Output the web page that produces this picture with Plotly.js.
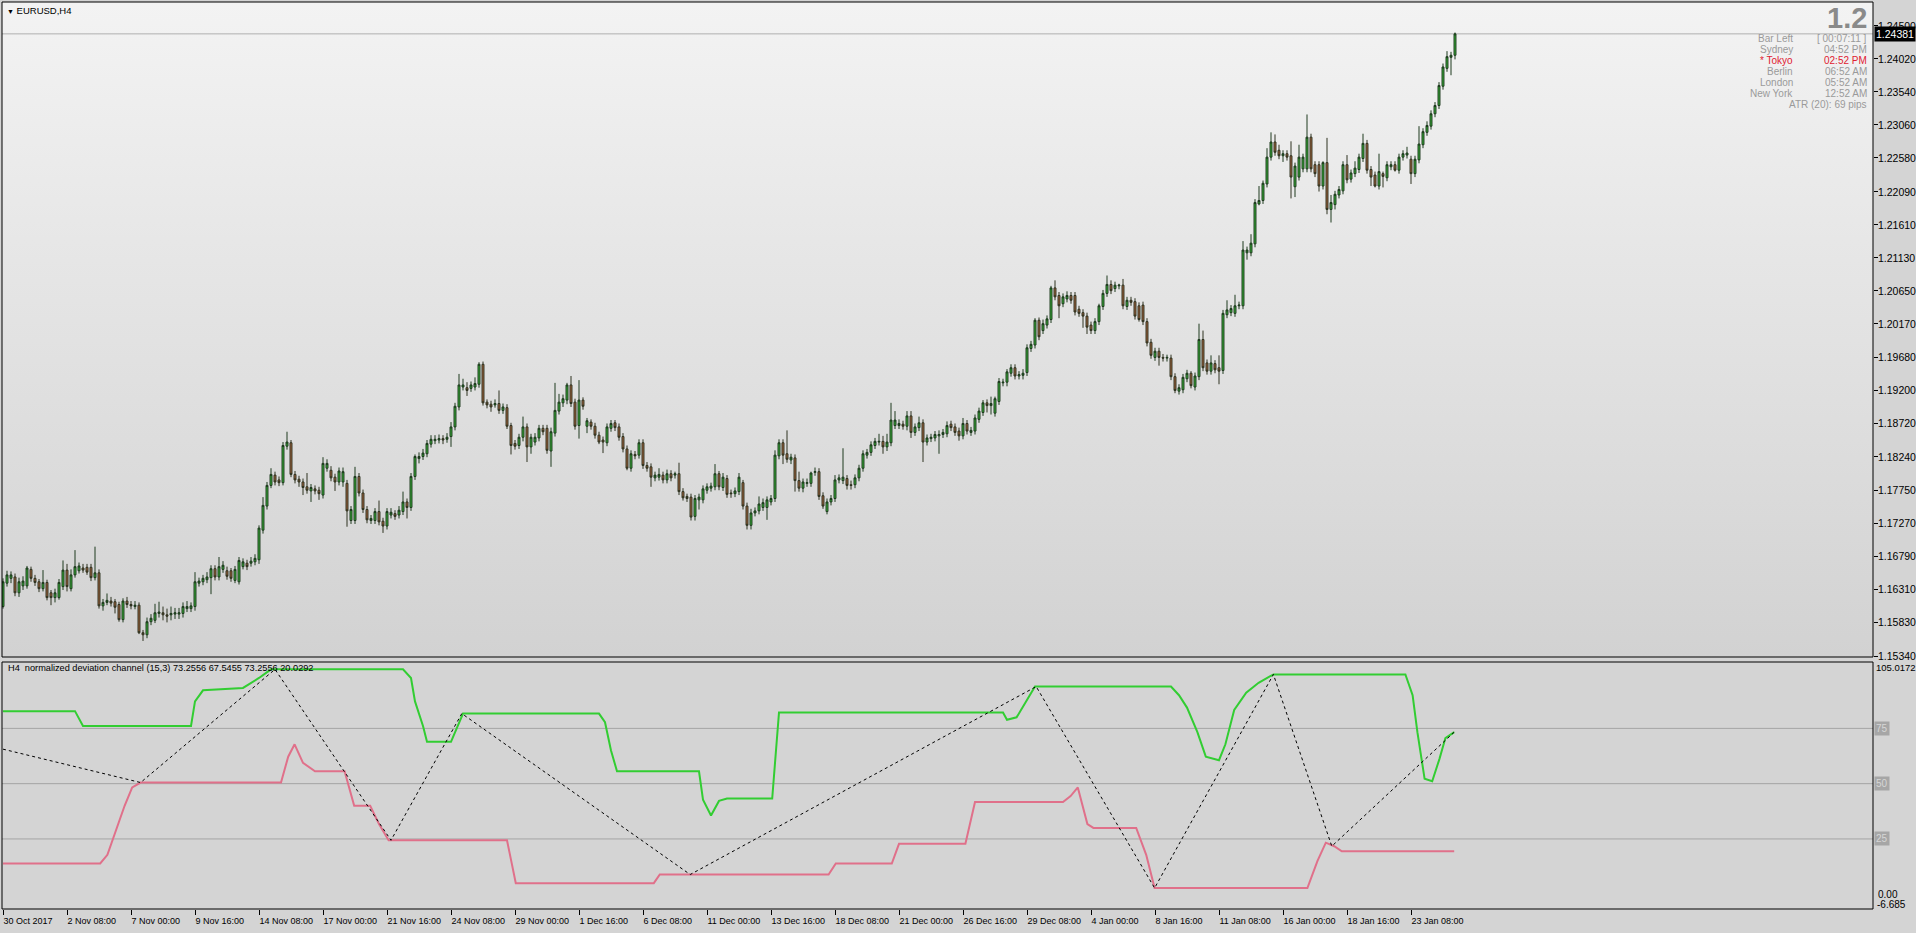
<!DOCTYPE html>
<html>
<head>
<meta charset="utf-8">
<script src="https://cdn.plot.ly/plotly-3.0.1.min.js"></script>
<style>
html,body{margin:0;padding:0;background:#d4d4d4;overflow:hidden;}
#wrap{position:relative;width:1916px;height:933px;}
#grad{position:absolute;left:2px;top:2px;width:1871px;height:655px;background:linear-gradient(to bottom,#f3f3f3,#d2d2d2);}
#low{position:absolute;left:2px;top:662px;width:1871px;height:247px;background:#d4d4d4;}
#chart{position:absolute;left:0;top:0;width:1916px;height:933px;}
</style>
</head>
<body>
<div id="wrap"><div id="grad"></div><div id="low"></div><div id="chart"></div></div>
<script>
// ---------- price data (EURUSD H4) ----------
const open = [
1.1606,1.1640,1.1647,1.1649,1.1626,1.1636,1.1636,1.1660,1.1647,1.1642,
1.1632,1.1641,1.1626,1.1619,1.1619,1.1635,1.1659,1.1632,1.1652,1.1658,
1.1662,1.1663,1.1663,1.1648,1.1655,1.1607,1.1612,1.1614,1.1613,1.1609,
1.1587,1.1614,1.1609,1.1606,1.1608,1.1568,1.1565,1.1584,1.1586,1.1596,
1.1597,1.1594,1.1594,1.1595,1.1595,1.1596,1.1603,1.1603,1.1606,1.1640,
1.1642,1.1645,1.1648,1.1661,1.1649,1.1660,1.1658,1.1658,1.1644,1.1642,
1.1664,1.1669,1.1669,1.1671,1.1674,1.1717,1.1752,1.1782,1.1797,1.1790,
1.1786,1.1839,1.1844,1.1798,1.1791,1.1787,1.1780,1.1774,1.1777,1.1775,
1.1768,1.1807,1.1804,1.1794,1.1787,1.1787,1.1785,1.1731,1.1731,1.1795,
1.1771,1.1747,1.1731,1.1731,1.1744,1.1730,1.1723,1.1739,1.1741,1.1739,
1.1744,1.1758,1.1750,1.1795,1.1821,1.1824,1.1828,1.1842,1.1847,1.1848,
1.1850,1.1849,1.1853,1.1867,1.1896,1.1925,1.1924,1.1923,1.1925,1.1929,
1.1958,1.1903,1.1900,1.1899,1.1901,1.1891,1.1895,1.1869,1.1843,1.1840,
1.1852,1.1867,1.1838,1.1845,1.1851,1.1865,1.1865,1.1832,1.1858,1.1890,
1.1902,1.1906,1.1928,1.1903,1.1869,1.1906,1.1868,1.1874,1.1868,1.1855,
1.1848,1.1844,1.1865,1.1873,1.1867,1.1853,1.1835,1.1807,1.1827,1.1826,
1.1844,1.1811,1.1809,1.1793,1.1794,1.1797,1.1790,1.1799,1.1797,1.1799,
1.1773,1.1766,1.1765,1.1737,1.1761,1.1761,1.1775,1.1778,1.1780,1.1799,
1.1779,1.1792,1.1771,1.1770,1.1773,
1.1786,1.1752,1.1724,1.1742,1.1745,
1.1750,1.1750,1.1758,1.1763,1.1825,1.1844,1.1828,1.1819,1.1822,1.1789,
1.1778,1.1785,1.1785,1.1801,1.1802,1.1767,1.1744,1.1758,1.1763,1.1790,
1.1789,1.1792,1.1783,1.1783,1.1793,1.1807,1.1826,1.1830,1.1840,1.1845,
1.1846,1.1838,1.1844,1.1869,1.1869,1.1871,1.1868,1.1883,1.1859,1.1866,
1.1873,1.1845,1.1850,1.1851,1.1854,1.1856,1.1857,1.1871,1.1867,1.1861,
1.1854,1.1872,1.1859,1.1861,1.1878,1.1888,1.1902,1.1898,1.1887,1.1904,
1.1931,1.1932,1.1945,1.1953,1.1941,1.1942,1.1946,1.1981,1.1986,1.2022,
1.2007,1.2015,1.2023,1.2069,1.2058,1.2046,1.2053,1.2058,1.2058,1.2038,
1.2033,1.2028,1.2015,1.2007,1.2020,1.2042,1.2061,1.2074,1.2068,1.2072,
1.2073,1.2042,1.2051,1.2049,1.2043,1.2044,1.2020,1.1990,1.1968,1.1977,
1.1968,1.1967,1.1967,1.1940,1.1919,1.1921,1.1937,1.1945,1.1925,1.1940,
1.1994,1.1960,1.1948,1.1959,1.1953,1.1949,1.2030,1.2033,1.2032,1.2043,
1.2043,1.2120,1.2120,1.2133,1.2191,1.2196,1.2220,1.2259,1.2281,1.2269,
1.2261,1.2264,1.2261,1.2216,1.2230,1.2242,1.2242,1.2288,1.2248,1.2248,
1.2217,1.2251,1.2183,1.2190,1.2204,1.2210,1.2248,1.2227,1.2235,1.2241,
1.2257,1.2279,1.2241,1.2233,1.2217,1.2235,1.2229,1.2245,1.2248,1.2240,
1.2259,1.2262,1.2256,1.2235,1.2255,1.2277,1.2295,1.2304,1.2322,1.2334,
1.2362,1.2388,1.2404,1.2407];
const high = [
1.1647,1.1658,1.1657,1.1654,1.1648,1.1650,1.1665,1.1664,1.1652,1.1646,
1.1659,1.1645,1.1630,1.1632,1.1646,1.1673,1.1668,1.1660,1.1688,1.1670,
1.1668,1.1668,1.1668,1.1693,1.1660,1.1617,1.1625,1.1620,1.1617,1.1613,
1.1618,1.1620,1.1614,1.1614,1.1612,1.1572,1.1590,1.1595,1.1610,1.1613,
1.1606,1.1603,1.1606,1.1604,1.1604,1.1612,1.1614,1.1612,1.1656,1.1648,
1.1652,1.1656,1.1666,1.1666,1.1678,1.1672,1.1664,1.1662,1.1665,1.1678,
1.1676,1.1674,1.1678,1.1682,1.1724,1.1765,1.1787,1.1807,1.1802,1.1795,
1.1845,1.1860,1.1848,1.1803,1.1796,1.1792,1.1800,1.1784,1.1782,1.1780,
1.1823,1.1820,1.1810,1.1799,1.1808,1.1808,1.1790,1.1752,1.1809,1.1800,
1.1776,1.1752,1.1739,1.1749,1.1760,1.1735,1.1749,1.1749,1.1746,1.1752,
1.1773,1.1763,1.1800,1.1827,1.1830,1.1835,1.1848,1.1855,1.1855,1.1856,
1.1855,1.1858,1.1874,1.1902,1.1944,1.1937,1.1932,1.1933,1.1939,1.1961,
1.1962,1.1907,1.1905,1.1907,1.1920,1.1901,1.1900,1.1873,1.1848,1.1857,
1.1882,1.1872,1.1857,1.1858,1.1870,1.1870,1.1870,1.1866,1.1931,1.1915,
1.1914,1.1931,1.1941,1.1908,1.1935,1.1910,1.1880,1.1878,1.1873,1.1860,
1.1853,1.1872,1.1877,1.1877,1.1872,1.1858,1.1840,1.1833,1.1832,1.1849,
1.1849,1.1816,1.1814,1.1802,1.1807,1.1802,1.1805,1.1804,1.1802,1.1815,
1.1778,1.1770,1.1770,1.1768,1.1770,1.1782,1.1785,1.1786,1.1813,1.1803,
1.1800,1.1797,1.1776,1.1779,1.1800,
1.1790,1.1757,1.1748,1.1750,1.1766,
1.1763,1.1766,1.1768,1.1833,1.1849,1.1849,1.1862,1.1828,1.1827,1.1802,
1.1792,1.1792,1.1802,1.1808,1.1807,1.1772,1.1763,1.1768,1.1797,1.1798,
1.1836,1.1797,1.1789,1.1798,1.1812,1.1833,1.1835,1.1846,1.1851,1.1857,
1.1854,1.1857,1.1902,1.1890,1.1878,1.1876,1.1890,1.1890,1.1872,1.1882,
1.1878,1.1856,1.1857,1.1861,1.1862,1.1864,1.1875,1.1876,1.1872,1.1866,
1.1880,1.1877,1.1867,1.1885,1.1895,1.1906,1.1907,1.1911,1.1911,1.1938,
1.1937,1.1951,1.1958,1.1958,1.1948,1.1951,1.1987,1.1992,1.2025,1.2026,
1.2023,1.2029,1.2072,1.2080,1.2063,1.2061,1.2064,1.2063,1.2063,1.2043,
1.2038,1.2033,1.2020,1.2025,1.2046,1.2066,1.2087,1.2080,1.2078,1.2075,
1.2082,1.2056,1.2056,1.2054,1.2048,1.2049,1.2025,1.1995,1.1982,1.1982,
1.1973,1.1972,1.1972,1.1945,1.1929,1.1944,1.1950,1.1948,1.1946,1.2017,
1.2007,1.1965,1.1971,1.1964,1.1971,1.2037,1.2051,1.2044,1.2059,1.2049,
1.2137,1.2129,1.2147,1.2198,1.2217,1.2225,1.2272,1.2295,1.2292,1.2277,
1.2269,1.2269,1.2282,1.2251,1.2277,1.2264,1.2321,1.2293,1.2253,1.2253,
1.2253,1.2287,1.2204,1.2210,1.2217,1.2253,1.2262,1.2241,1.2253,1.2264,
1.2293,1.2284,1.2246,1.2238,1.2264,1.2238,1.2253,1.2253,1.2253,1.2264,
1.2269,1.2274,1.2261,1.2261,1.2304,1.2301,1.2311,1.2327,1.2339,1.2368,
1.2395,1.2413,1.2412,1.2440];
const low = [
1.1603,1.1635,1.1640,1.1621,1.1620,1.1630,1.1632,1.1642,1.1636,1.1627,
1.1628,1.1615,1.1608,1.1612,1.1616,1.1630,1.1628,1.1628,1.1648,1.1654,
1.1655,1.1652,1.1643,1.1644,1.1603,1.1600,1.1608,1.1606,1.1596,1.1584,
1.1583,1.1604,1.1602,1.1602,1.1566,1.1556,1.1560,1.1579,1.1582,1.1590,
1.1586,1.1583,1.1586,1.1588,1.1588,1.1590,1.1598,1.1598,1.1600,1.1635,
1.1637,1.1640,1.1624,1.1644,1.1644,1.1655,1.1645,1.1642,1.1640,1.1638,
1.1660,1.1659,1.1664,1.1666,1.1668,1.1712,1.1747,1.1778,1.1782,1.1781,
1.1782,1.1834,1.1794,1.1785,1.1780,1.1768,1.1770,1.1758,1.1769,1.1761,
1.1763,1.1802,1.1788,1.1774,1.1782,1.1780,1.1722,1.1726,1.1726,1.1766,
1.1742,1.1727,1.1726,1.1726,1.1724,1.1713,1.1718,1.1734,1.1732,1.1734,
1.1739,1.1734,1.1745,1.1790,1.1814,1.1819,1.1823,1.1837,1.1842,1.1843,
1.1842,1.1844,1.1838,1.1862,1.1891,1.1920,1.1912,1.1918,1.1920,1.1924,
1.1898,1.1894,1.1889,1.1895,1.1886,1.1886,1.1864,1.1827,1.1834,1.1835,
1.1846,1.1816,1.1828,1.1840,1.1846,1.1855,1.1828,1.1809,1.1853,1.1885,
1.1896,1.1900,1.1896,1.1863,1.1850,1.1892,1.1858,1.1863,1.1850,1.1842,
1.1829,1.1839,1.1860,1.1861,1.1847,1.1830,1.1804,1.1802,1.1820,1.1821,
1.1806,1.1802,1.1780,1.1788,1.1789,1.1785,1.1785,1.1788,1.1792,1.1768,
1.1760,1.1758,1.1731,1.1731,1.1747,1.1756,1.1770,1.1773,1.1775,1.1775,
1.1774,1.1764,1.1764,1.1765,1.1768,
1.1747,1.1718,1.1718,1.1737,1.1740,
1.1745,1.1732,1.1753,1.1758,1.1820,1.1813,1.1815,1.1813,1.1773,1.1773,
1.1772,1.1780,1.1780,1.1796,1.1761,1.1748,1.1740,1.1753,1.1758,1.1785,
1.1784,1.1776,1.1776,1.1778,1.1788,1.1802,1.1821,1.1825,1.1835,1.1840,
1.1828,1.1832,1.1839,1.1864,1.1864,1.1863,1.1862,1.1851,1.1854,1.1861,
1.1816,1.1840,1.1845,1.1846,1.1828,1.1851,1.1852,1.1861,1.1854,1.1847,
1.1849,1.1856,1.1854,1.1856,1.1873,1.1883,1.1888,1.1885,1.1882,1.1899,
1.1926,1.1926,1.1940,1.1936,1.1936,1.1936,1.1941,1.1976,1.1981,1.1993,
1.2002,1.2010,1.2018,1.2051,1.2025,1.2041,1.2048,1.2046,1.2029,1.2027,
1.2011,1.2002,1.2002,1.2002,1.2015,1.2037,1.2056,1.2060,1.2063,1.2067,
1.2038,1.2037,1.2043,1.2023,1.2020,1.2015,1.1984,1.1966,1.1963,1.1956,
1.1962,1.1962,1.1935,1.1916,1.1914,1.1916,1.1932,1.1923,1.1920,1.1935,
1.1948,1.1943,1.1943,1.1945,1.1929,1.1944,1.2025,1.2028,1.2027,1.2038,
1.2038,1.2110,1.2115,1.2128,1.2189,1.2191,1.2215,1.2254,1.2261,1.2256,
1.2252,1.2254,1.2199,1.2201,1.2225,1.2237,1.2237,1.2237,1.2230,1.2209,
1.2212,1.2176,1.2164,1.2183,1.2199,1.2205,1.2221,1.2222,1.2230,1.2236,
1.2252,1.2235,1.2217,1.2215,1.2212,1.2215,1.2224,1.2240,1.2238,1.2235,
1.2254,1.2257,1.2220,1.2230,1.2250,1.2272,1.2290,1.2299,1.2317,1.2329,
1.2357,1.2383,1.2378,1.2401];
const close = [
1.1642,1.1652,1.1652,1.1626,1.1642,1.1643,1.1662,1.1647,1.1641,1.1632,
1.1641,1.1619,1.1619,1.1626,1.1641,1.1659,1.1635,1.1652,1.1664,1.1665,
1.1659,1.1656,1.1648,1.1655,1.1607,1.1612,1.1615,1.1611,1.1605,1.1587,
1.1614,1.1609,1.1607,1.1608,1.1568,1.1565,1.1584,1.1589,1.1597,1.1598,
1.1594,1.1592,1.1596,1.1597,1.1597,1.1606,1.1606,1.1607,1.1642,1.1643,
1.1647,1.1649,1.1661,1.1649,1.1664,1.1666,1.1650,1.1647,1.1660,1.1673,
1.1671,1.1664,1.1672,1.1676,1.1720,1.1753,1.1782,1.1798,1.1787,1.1786,
1.1840,1.1845,1.1798,1.1790,1.1787,1.1779,1.1775,1.1779,1.1774,1.1770,
1.1814,1.1814,1.1793,1.1787,1.1803,1.1802,1.1745,1.1747,1.1795,1.1771,
1.1747,1.1732,1.1734,1.1744,1.1729,1.1723,1.1744,1.1743,1.1737,1.1746,
1.1758,1.1750,1.1795,1.1824,1.1824,1.1829,1.1843,1.1849,1.1849,1.1850,
1.1848,1.1852,1.1867,1.1897,1.1928,1.1928,1.1920,1.1928,1.1930,1.1958,
1.1902,1.1899,1.1896,1.1901,1.1891,1.1896,1.1868,1.1840,1.1839,1.1852,
1.1867,1.1838,1.1852,1.1852,1.1865,1.1860,1.1833,1.1860,1.1891,1.1903,
1.1908,1.1928,1.1901,1.1868,1.1906,1.1897,1.1876,1.1868,1.1855,1.1845,
1.1845,1.1867,1.1872,1.1866,1.1852,1.1835,1.1807,1.1828,1.1825,1.1844,
1.1811,1.1807,1.1794,1.1797,1.1798,1.1790,1.1799,1.1793,1.1799,1.1773,
1.1764,1.1763,1.1736,1.1763,1.1765,1.1777,1.1780,1.1781,1.1799,1.1780,
1.1794,1.1769,1.1770,1.1774,1.1794,
1.1752,1.1724,1.1742,1.1745,1.1755,
1.1757,1.1761,1.1763,1.1826,1.1844,1.1826,1.1820,1.1823,1.1789,1.1778,
1.1787,1.1786,1.1800,1.1802,1.1766,1.1752,1.1758,1.1763,1.1790,1.1793,
1.1794,1.1782,1.1782,1.1793,1.1807,1.1828,1.1830,1.1841,1.1846,1.1846,
1.1838,1.1845,1.1877,1.1877,1.1872,1.1868,1.1883,1.1859,1.1867,1.1873,
1.1845,1.1851,1.1852,1.1856,1.1856,1.1859,1.1869,1.1866,1.1859,1.1854,
1.1872,1.1861,1.1862,1.1880,1.1890,1.1902,1.1898,1.1901,1.1908,1.1933,
1.1932,1.1947,1.1953,1.1941,1.1943,1.1945,1.1982,1.1987,1.2022,1.1998,
1.2017,1.2024,1.2069,1.2056,1.2043,1.2056,1.2058,1.2051,1.2034,1.2032,
1.2028,1.2012,1.2007,1.2020,1.2043,1.2061,1.2074,1.2065,1.2073,1.2073,
1.2043,1.2051,1.2048,1.2028,1.2023,1.2020,1.1989,1.1971,1.1977,1.1968,
1.1967,1.1968,1.1940,1.1920,1.1924,1.1939,1.1945,1.1927,1.1941,1.1994,
1.1953,1.1948,1.1960,1.1950,1.1948,1.2032,1.2037,1.2039,1.2043,1.2044,
1.2124,1.2124,1.2134,1.2193,1.2196,1.2221,1.2259,1.2281,1.2266,1.2261,
1.2264,1.2259,1.2230,1.2246,1.2259,1.2259,1.2288,1.2242,1.2235,1.2217,
1.2251,1.2183,1.2193,1.2205,1.2212,1.2248,1.2226,1.2236,1.2243,1.2259,
1.2279,1.2240,1.2230,1.2217,1.2238,1.2231,1.2248,1.2248,1.2240,1.2259,
1.2264,1.2265,1.2235,1.2256,1.2278,1.2296,1.2305,1.2322,1.2334,1.2363,
1.2390,1.2405,1.2407,1.24381];

const lastPrice = 1.24381;
const priceTicks = [1.24500,1.24020,1.23540,1.23060,1.22580,1.22090,1.21610,1.21130,1.20650,1.20170,
  1.19680,1.19200,1.18720,1.18240,1.17750,1.17270,1.16790,1.16310,1.15830,1.15340];
const priceTickText = ['1.24500','1.24020','1.23540','1.23060','1.22580','1.22090','1.21610','1.21130','1.20650','1.20170',
  '1.19680','1.19200','1.18720','1.18240','1.17750','1.17270','1.16790','1.16310','1.15830','1.15340'];

// time axis labels every 16 H4 bars
const timeLabels = ['30 Oct 2017','2 Nov 08:00','7 Nov 00:00','9 Nov 16:00','14 Nov 08:00','17 Nov 00:00',
  '21 Nov 16:00','24 Nov 08:00','29 Nov 00:00','1 Dec 16:00','6 Dec 08:00','11 Dec 00:00','13 Dec 16:00',
  '18 Dec 08:00','21 Dec 00:00','26 Dec 16:00','29 Dec 08:00','4 Jan 00:00','8 Jan 16:00','11 Jan 08:00',
  '16 Jan 00:00','18 Jan 16:00','23 Jan 08:00'];
const timeLabelBars = [0,16,32,48,64,80,96,112,128,144,160,176,192,208,224,240,256,272,288,304,320,336,352];

// ---------- normalized deviation channel (vertices: bar, value) ----------
const upperX = [0,18,20,47,48,50,60,64,67,100,102,103,105,106,112,115,149,150.5,152,153.5,174,175,177,179,181,192.3,194,250,251,253.4,258,292,294,296,298.6,300.7,304,305.6,307.8,310.8,313.9,317.6,350.6,352.4,353.6,355.4,357.3,359.1,360.6,362.8];
const upperY = [82.8,82.8,76.1,76.1,87.2,92.2,93.3,97.8,101.7,101.7,97.8,87.2,76.1,68.9,68.9,81.7,81.7,77.8,65,55.6,55.6,42.8,35.6,42.2,43.3,43.3,82.2,82.2,78.9,80,93.9,93.9,90,84.4,73.3,62.2,60.6,67.8,83.3,91.1,95.6,99.4,99.4,90,73.3,52.2,51.1,61.1,70.6,73.3];
const lowerX = [0,24.3,26.1,28.3,30.4,32.3,34.4,69.5,71.3,72.9,75,78,85.4,87.8,91.8,94,96.4,126,128.2,162.7,164.2,206.4,208.2,222.2,224,240.6,243,265,266.9,268.7,271.1,272.6,283.3,285.8,287.9,326.1,328.6,330.7,332.8,334.7,362.8];
const lowerY = [13.9,13.9,17.8,28.9,40,48.3,50.5,50.5,62.2,67.8,59.4,55.6,55.6,40,40,31.7,24.4,24.4,5,5,8.9,8.9,13.9,13.9,22.8,22.8,41.7,41.7,44.4,48.3,31.7,30,30,17.8,2.8,2.8,15,23.3,21.7,19.4,19.4];
const zigX = [0,34.4,68,97,114.7,171.8,258.3,287.9,317.6,332.2,362.8];
const zigY = [65.6,50.5,101.7,24.4,81.7,8.9,93.9,2.8,99.4,21.7,73.3];
const levels = [75,50,25];
const indMax = 105.0172, indMin = -6.685;
const indTitle = 'H4  normalized deviation channel (15,3) 73.2556 67.5455 73.2556 20.0292';

// info panel
const infoLabels = ['Bar Left','Sydney','* Tokyo','Berlin','London','New York'];
const infoValues = ['[ 00:07:11 ]','04:52 PM','02:52 PM','06:52 AM','05:52 AM','12:52 AM'];
const atrText = 'ATR (20): 69 pips';

// ---------- layout helpers (pixel -> paper) ----------
const L = 2, R = 1873, T = 2, B = 909;
const px = x => (x - L) / (R - L);
const py = y => (B - y) / (B - T);
const mainBottom = 657, lowTop = 662;

const bars = close.map((_, i) => i);
const FONT = 'Liberation Sans, Arial, sans-serif';

const traces = [
  {type:'candlestick', x:bars, open:open, high:high, low:low, close:close, xaxis:'x', yaxis:'y',
   increasing:{line:{color:'#1e3a1e', width:1}, fillcolor:'#36b336'},
   decreasing:{line:{color:'#2e3320', width:1}, fillcolor:'#a8623c'},
   whiskerwidth:0, hoverinfo:'skip', showlegend:false},
  {type:'scatter', mode:'lines', x:upperX, y:upperY, xaxis:'x', yaxis:'y2',
   line:{color:'#32cd32', width:2}, hoverinfo:'skip', showlegend:false},
  {type:'scatter', mode:'lines', x:lowerX, y:lowerY, xaxis:'x', yaxis:'y2',
   line:{color:'#e0708a', width:2}, hoverinfo:'skip', showlegend:false},
  {type:'scatter', mode:'lines', x:zigX, y:zigY, xaxis:'x', yaxis:'y2',
   line:{color:'#000000', width:1, dash:'3px,3px'}, hoverinfo:'skip', showlegend:false}
];

const shapes = [
  {type:'line', xref:'paper', x0:0, x1:1, yref:'y', y0:lastPrice, y1:lastPrice, line:{color:'#b0b0b0', width:1}, layer:'below'},
  {type:'rect', xref:'paper', x0:0, x1:1, yref:'paper', y0:py(mainBottom), y1:1, line:{color:'#000', width:1}},
  {type:'rect', xref:'paper', x0:0, x1:1, yref:'paper', y0:0, y1:py(lowTop), line:{color:'#000', width:1}}
];
levels.forEach(v => shapes.push({type:'line', xref:'paper', x0:0, x1:1, yref:'y2', y0:v, y1:v, line:{color:'#a4a4a4', width:1}, layer:'below'}));

const annotations = [];
function txt(x, y, text, opt) {
  annotations.push(Object.assign({xref:'paper', yref:'paper', x:px(x), y:py(y), text:text, showarrow:false,
    xanchor:'left', yanchor:'middle', font:{family:FONT, size:10, color:'#000'}}, opt || {}));
}
txt(5, 10, '<span style="font-size:7px">\u25BC</span> EURUSD,H4', {font:{family:FONT, size:9.5, color:'#000'}});
txt(1869, 18, '1.2', {xanchor:'right', font:{family:FONT, size:29, color:'#8a8a8a', weight:'bold'}});
infoLabels.forEach((s, i) => {
  const col = i === 2 ? '#e02030' : '#9a9a9a';
  txt(1795, 38 + i * 11.1, s, {xanchor:'right', font:{family:FONT, size:10, color:col}});
  txt(1869, 38 + i * 11.1, infoValues[i], {xanchor:'right', font:{family:FONT, size:10, color:col}});
});
txt(1869, 38 + 6 * 11.1, atrText, {xanchor:'right', font:{family:FONT, size:10, color:'#9a9a9a'}});
txt(6, 668, indTitle, {font:{family:FONT, size:9.2, color:'#000'}});
// right price scale labels
priceTicks.forEach((v, i) => annotations.push({xref:'paper', yref:'y', x:1, y:v, xanchor:'left', yanchor:'middle', xshift:3,
  text:priceTickText[i], showarrow:false, font:{family:FONT, size:10.5, color:'#000'}}));
annotations.push({xref:'paper', yref:'y', x:1, y:lastPrice, xanchor:'left', yanchor:'middle', xshift:1, text:'1.24381',
  showarrow:false, bgcolor:'#000', borderpad:1, font:{family:FONT, size:10.5, color:'#fff'}});
txt(1874, 667, indMax.toFixed(4), {font:{family:FONT, size:9.5, color:'#000'}});
txt(1876, 894, '0.00', {font:{family:FONT, size:10, color:'#000'}});
txt(1875, 904, String(indMin), {font:{family:FONT, size:10, color:'#000'}});
levels.forEach(v => annotations.push({xref:'paper', yref:'y2', x:1, y:v, xanchor:'left', yanchor:'middle', xshift:1,
  text:String(v), showarrow:false, bgcolor:'#a6a6a6', borderpad:1, font:{family:FONT, size:10, color:'#d6d6d6'}}));

const layout = {
  width:1916, height:933,
  margin:{l:L, r:1916 - R, t:T, b:933 - B, pad:0},
  paper_bgcolor:'rgba(0,0,0,0)', plot_bgcolor:'rgba(0,0,0,0)',
  showlegend:false, dragmode:false,
  xaxis:{domain:[0,1], anchor:'y2', range:[-0.25, 467.5], showgrid:false, zeroline:false,
    rangeslider:{visible:false}, tickmode:'array', tickvals:timeLabelBars, ticktext:timeLabels,
    ticks:'outside', ticklen:5, tickcolor:'#000', tickwidth:1, ticklabelposition:'outside right', tickangle:0,
    ticklabelstandoff:3,
    tickfont:{family:FONT, size:9, color:'#000'}, showline:false, fixedrange:true},
  yaxis:{domain:[py(mainBottom), 1], anchor:'x', side:'right', range:[1.15327, 1.24844],
    showgrid:false, zeroline:false, tickmode:'array', tickvals:priceTicks, showticklabels:false,
    ticks:'outside', ticklen:4, tickcolor:'#000', tickwidth:1, fixedrange:true},
  yaxis2:{domain:[0, py(lowTop)], anchor:'x', side:'right', range:[indMin, indMax],
    showgrid:false, zeroline:false, showticklabels:false, ticks:'', fixedrange:true},
  shapes:shapes, annotations:annotations
};

Plotly.newPlot('chart', traces, layout, {staticPlot:true, displayModeBar:false});
</script>
</body>
</html>
